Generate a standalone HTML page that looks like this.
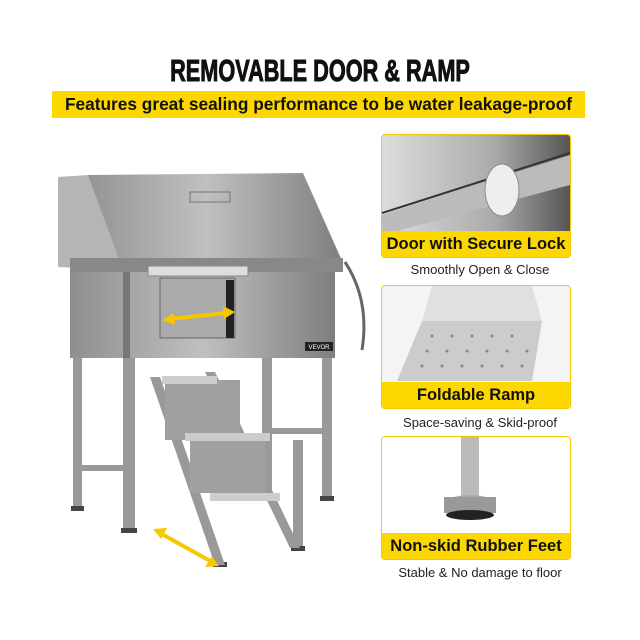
<!DOCTYPE html>
<html><head><style>
body{margin:0;width:640px;height:640px;background:#fff;position:relative;overflow:hidden;font-family:"Liberation Sans",sans-serif}
.t{position:absolute;left:0;width:640px;top:53px;text-align:center;font-size:31px;font-weight:bold;transform:scaleX(0.70);color:#111;-webkit-text-stroke:1px #111}
.bar{position:absolute;left:52px;top:91px;width:533px;height:27px;background:#fcd800;text-align:center;font-weight:bold;font-size:17.3px;line-height:27px;color:#111}
.p{position:absolute;left:381px;width:188px;height:122px;border:1.5px solid #f2c800;border-radius:4px;overflow:hidden;background:#fff}
.lab{position:absolute;left:0;bottom:0;width:100%;height:26px;background:#fcd800;font-weight:bold;font-size:16.5px;line-height:26px;text-align:center;color:#111}
.s{position:absolute;left:370px;width:220px;text-align:center;font-size:13px;color:#222}
</style></head><body>
<div class="t">REMOVABLE DOOR &amp; RAMP</div>
<div class="bar">Features great sealing performance to be water leakage-proof</div>

<div class="p" style="top:134px">
<svg width="188" height="100"><defs><linearGradient id="g1" x1="0" x2="1"><stop offset="0" stop-color="#ddd"/><stop offset="0.6" stop-color="#aaa"/><stop offset="1" stop-color="#555"/></linearGradient></defs>
<rect width="188" height="100" fill="url(#g1)"/><polygon points="0,80 188,20 188,50 0,100" fill="#bbb"/><line x1="0" y1="78" x2="188" y2="18" stroke="#333" stroke-width="2"/><ellipse cx="120" cy="55" rx="17" ry="26" fill="#eee" stroke="#888"/></svg>
<div class="lab">Door with Secure Lock</div></div>
<div class="s" style="top:262px">Smoothly Open &amp; Close</div>

<div class="p" style="top:285px">
<svg width="188" height="100"><rect width="188" height="100" fill="#f4f4f4"/><polygon points="40,35 160,35 150,95 15,95" fill="#ccc"/><polygon points="50,0 150,0 160,35 40,35" fill="#e0e0e0"/>
<g fill="#888"><circle cx="50" cy="50" r="1.5"/><circle cx="70" cy="50" r="1.5"/><circle cx="90" cy="50" r="1.5"/><circle cx="110" cy="50" r="1.5"/><circle cx="130" cy="50" r="1.5"/><circle cx="45" cy="65" r="1.5"/><circle cx="65" cy="65" r="1.5"/><circle cx="85" cy="65" r="1.5"/><circle cx="105" cy="65" r="1.5"/><circle cx="125" cy="65" r="1.5"/><circle cx="145" cy="65" r="1.5"/><circle cx="40" cy="80" r="1.5"/><circle cx="60" cy="80" r="1.5"/><circle cx="80" cy="80" r="1.5"/><circle cx="100" cy="80" r="1.5"/><circle cx="120" cy="80" r="1.5"/><circle cx="140" cy="80" r="1.5"/></g></svg>
<div class="lab">Foldable Ramp</div></div>
<div class="s" style="top:415px">Space-saving &amp; Skid-proof</div>

<div class="p" style="top:436px">
<svg width="188" height="100"><rect x="79" y="0" width="18" height="60" fill="#bbb"/><ellipse cx="88" cy="68" rx="26" ry="10" fill="#aaa"/><rect x="62" y="60" width="52" height="16" fill="#999"/><ellipse cx="88" cy="78" rx="24" ry="5" fill="#222"/></svg>
<div class="lab">Non-skid Rubber Feet</div></div>
<div class="s" style="top:565px">Stable &amp; No damage to floor</div>

<svg style="position:absolute;left:0;top:0" width="370" height="640">
<defs><linearGradient id="m" x1="0" x2="1"><stop offset="0" stop-color="#8e8e8e"/><stop offset="0.5" stop-color="#c0c0c0"/><stop offset="1" stop-color="#7e7e7e"/></linearGradient></defs>
<polygon points="88,175 303,173 343,263 70,268" fill="url(#m)"/>
<polygon points="58,177 88,175 123,270 58,267" fill="#b5b5b5"/>
<polygon points="70,258 343,258 343,272 70,272" fill="#888"/>
<rect x="70" y="272" width="265" height="86" fill="url(#m)"/>
<rect x="123" y="272" width="7" height="86" fill="#777"/>
<rect x="160" y="278" width="75" height="60" fill="#aaa" stroke="#666"/>
<rect x="226" y="280" width="8" height="58" fill="#222"/>
<rect x="148" y="266" width="100" height="10" fill="#ddd" stroke="#888"/>
<rect x="305" y="342" width="28" height="9" fill="#222"/><text x="319" y="349" font-size="6" fill="#fff" text-anchor="middle" font-family="Liberation Sans">VEVOR</text>
<rect x="190" y="192" width="40" height="10" fill="none" stroke="#777"/>
<path d="M345,262 Q370,300 362,350" fill="none" stroke="#666" stroke-width="3"/>
<rect x="73" y="358" width="9" height="150" fill="#999"/>
<rect x="123" y="358" width="12" height="172" fill="#999"/>
<rect x="262" y="358" width="10" height="135" fill="#999"/>
<rect x="322" y="358" width="10" height="140" fill="#999"/>
<rect x="293" y="440" width="10" height="108" fill="#999"/>
<rect x="75" y="465" width="55" height="6" fill="#999"/>
<rect x="265" y="428" width="62" height="6" fill="#999"/>
<g fill="#444"><rect x="71" y="506" width="13" height="5"/><rect x="121" y="528" width="16" height="5"/><rect x="291" y="546" width="14" height="5"/><rect x="320" y="496" width="14" height="5"/><rect x="213" y="562" width="14" height="5"/></g>
<polygon points="150,377 160,377 225,565 215,565" fill="#999"/>
<polygon points="205,372 215,372 300,548 290,548" fill="#999"/>
<rect x="165" y="380" width="75" height="60" fill="#a0a0a0"/><rect x="162" y="376" width="55" height="8" fill="#ccc"/>
<rect x="190" y="437" width="75" height="56" fill="#a0a0a0"/><rect x="185" y="433" width="85" height="8" fill="#ccc"/>
<rect x="210" y="493" width="70" height="8" fill="#ccc"/>
<g stroke="#f5c800" stroke-width="4" fill="#f5c800">
<line x1="170" y1="319" x2="226" y2="313"/>
<polygon points="162,320 174,313 175,325" stroke="none"/><polygon points="235,312 223,306 224,319" stroke="none"/>
<line x1="160" y1="533" x2="212" y2="562"/>
<polygon points="153,529 167,528 161,539" stroke="none"/><polygon points="219,566 205,567 212,556" stroke="none"/>
</g>
</svg>
</body></html>
